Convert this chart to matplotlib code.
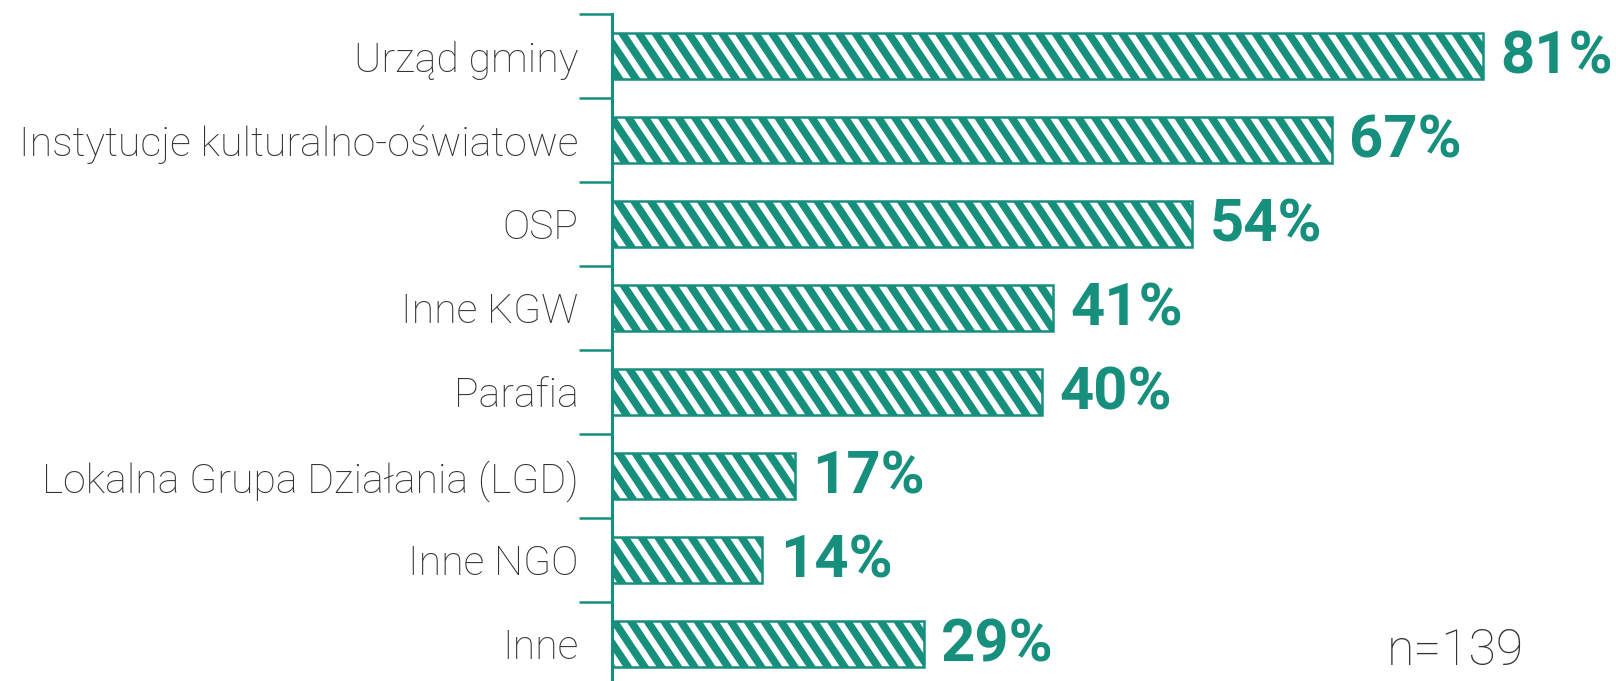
import numpy as np
import matplotlib
matplotlib.use('Agg')
import matplotlib.pyplot as plt
from matplotlib import hatch as mhatch
from matplotlib.path import Path

# Dane
kategorie = ['Urząd gminy', 'Instytucje kulturalno-oświatowe', 'OSP', 'Inne KGW',
             'Parafia', 'Lokalna Grupa Działania (LGD)', 'Inne NGO', 'Inne']
wartosci = [81, 67, 54, 41, 40, 17, 14, 29]
etykiety = ['81%', '67%', '54%', '41%', '40%', '17%', '14%', '29%']
podpis_n = 'n=139'

teal = '#178f7d'


# kreskowanie bardziej strome niz 45 stopni
class StromeKreski(mhatch.HatchPatternBase):
    def __init__(self, hatch, density):
        self.n = int(hatch.count('\\') * density)
        self.shift = 4
        self.k = list(range(-self.shift - 1, self.n + 1)) if self.n else []
        self.num_vertices = len(self.k) * 2

    def set_vertices_and_codes(self, vertices, codes):
        x0 = np.array(self.k, dtype=float) / self.n
        vertices[0::2, 0] = x0
        vertices[0::2, 1] = 1.0
        vertices[1::2, 0] = x0 + self.shift / self.n
        vertices[1::2, 1] = 0.0
        codes[0::2] = Path.MOVETO
        codes[1::2] = Path.LINETO


mhatch._hatch_types = [StromeKreski if t is mhatch.SouthEastHatch else t
                       for t in mhatch._hatch_types]

plt.rcParams['hatch.linewidth'] = 5.5
plt.rcParams['hatch.color'] = teal

fig = plt.figure(figsize=(16.16, 6.81), dpi=100)
ax = fig.add_axes([612 / 1616, -5 / 681, 1004 / 1616, 672 / 681])

y = np.arange(len(kategorie))
ax.barh(y, wartosci, height=0.55, color='white', edgecolor=teal,
        hatch='\\', linewidth=1.8)

for yi, v, t in zip(y, wartosci, etykiety):
    ax.text(v + 1.6, yi + 0.02, t, va='center', ha='left', color=teal,
            fontsize=43, fontweight='bold', family='Roboto')

ax.text(0.772, 0.052, podpis_n, transform=ax.transAxes, ha='left', va='center',
        fontsize=36, fontweight='light', family='Roboto', color='#333333')

ax.set_xlim(0, 93.4)
ax.set_ylim(len(kategorie) - 0.5, -0.5)
ax.set_yticks(y)
ax.set_yticklabels(kategorie, fontsize=29.5, family='Roboto', fontweight='light',
                   color='#333333')
ax.set_yticks(np.arange(len(kategorie) + 1) - 0.5, minor=True)
ax.tick_params(axis='y', which='major', length=0, pad=24)
ax.tick_params(axis='y', which='minor', length=24, width=1.8, color=teal)
ax.set_xticks([])

for s in ['top', 'right', 'bottom']:
    ax.spines[s].set_visible(False)
ax.spines['left'].set_color(teal)
ax.spines['left'].set_linewidth(2.2)

fig.savefig('out.png', dpi=100)
